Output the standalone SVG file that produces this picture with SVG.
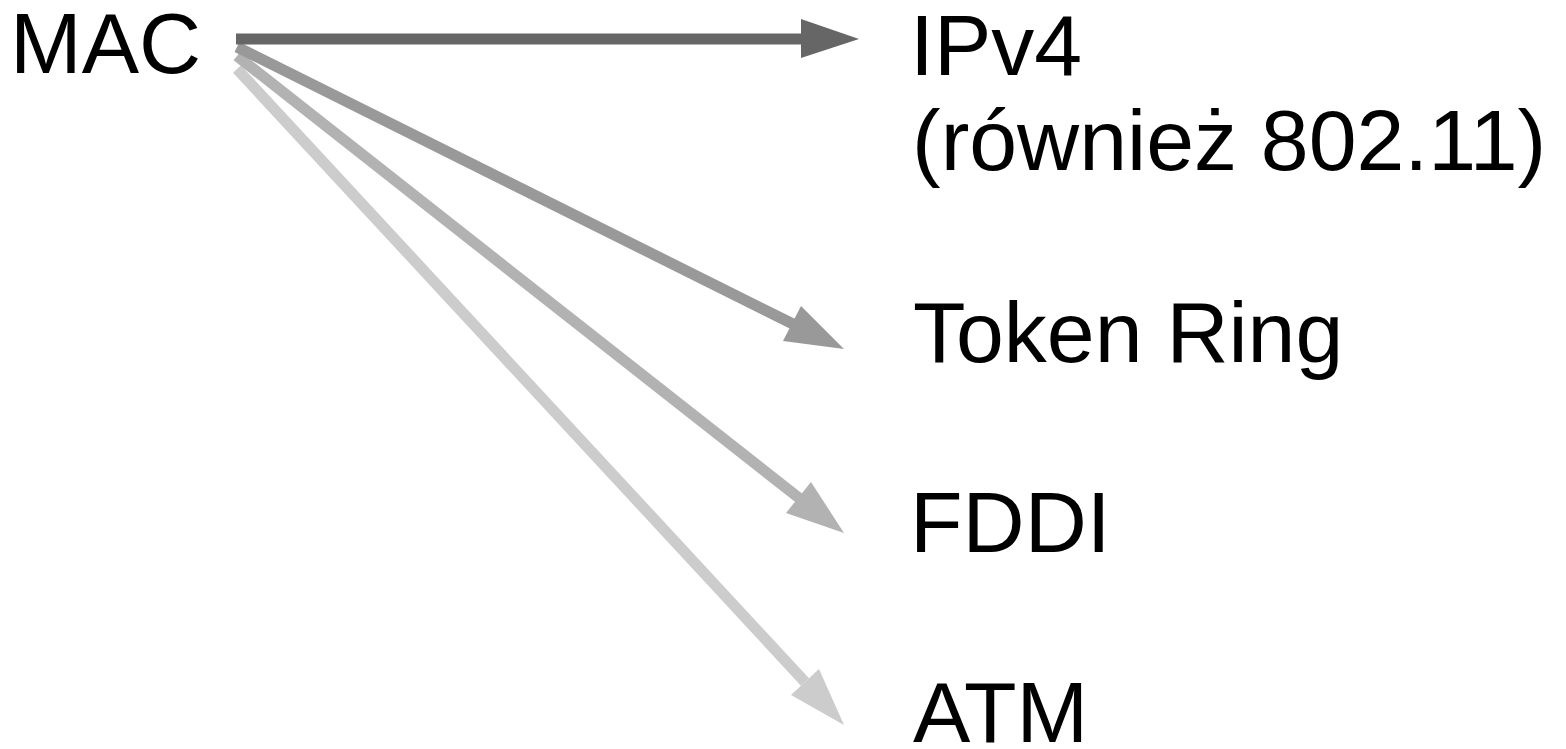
<svg xmlns="http://www.w3.org/2000/svg" width="1566" height="749" viewBox="0 0 1566 749">
  <style>
    .label { font-family: "Liberation Sans", Arial, sans-serif; font-size: 86px; fill: #000000; }
    .shaft { stroke-width: 11; fill: none; stroke-linecap: butt; }
    .c1 { stroke: #666666; } .h1 { fill: #666666; }
    .c2 { stroke: #999999; } .h2 { fill: #999999; }
    .c3 { stroke: #b2b2b2; } .h3 { fill: #b2b2b2; }
    .c4 { stroke: #cccccc; } .h4 { fill: #cccccc; }
  </style>
  <rect width="1566" height="749" fill="#ffffff"/>

  <!-- connectors: MAC to each network type -->
  <g id="connectors">
    <line class="shaft c4" x1="237" y1="69" x2="805" y2="682"/>
    <polygon class="h4" points="819,669 844,725 791,695"/>
    <line class="shaft c3" x1="237" y1="56" x2="799" y2="498"/>
    <polygon class="h3" points="811,482 844,533 786,513"/>
    <line class="shaft c2" x1="237" y1="47" x2="793" y2="324"/>
    <polygon class="h2" points="801,306 844,349 783,341"/>
    <line class="shaft c1" x1="236" y1="39" x2="803" y2="39"/>
    <polygon class="h1" points="801,19 859,39 801,58"/>
  </g>

  <g id="node-mac">
    <text class="label" x="10" y="73">MAC</text>
  </g>
  <g id="node-ipv4">
    <text class="label" x="910" y="75">IPv4</text>
    <text class="label" x="912" y="170">(również 802.11)</text>
  </g>
  <g id="node-token-ring">
    <text class="label" x="913" y="362">Token Ring</text>
  </g>
  <g id="node-fddi">
    <text class="label" x="910" y="552">FDDI</text>
  </g>
  <g id="node-atm">
    <text class="label" x="913" y="742">ATM</text>
  </g>
</svg>
